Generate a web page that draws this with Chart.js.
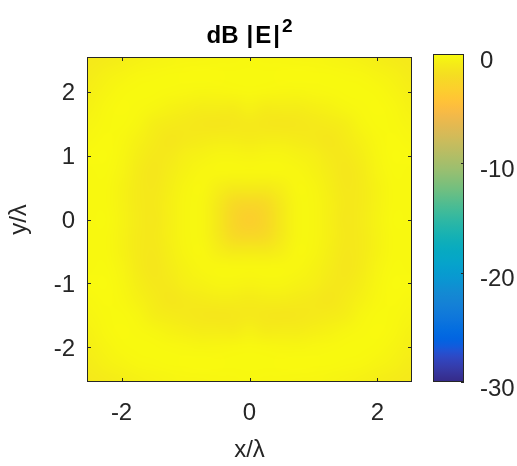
<!DOCTYPE html>
<html>
<head>
<meta charset="utf-8">
<script src="https://cdn.jsdelivr.net/npm/chart.js@4.4.1/dist/chart.umd.min.js"></script>
<style>
  html, body { margin: 0; padding: 0; background: #fff; }
  #wrap { position: relative; width: 517px; height: 466px; }
  #wrap canvas { position: absolute; left: 0; top: 0; }
</style>
</head>
<body>
<div id="wrap">
  <canvas id="fieldMap" width="517" height="466"></canvas>
  <canvas id="colorBar" width="517" height="466"></canvas>
</div>
<script>
// grid of the field map, in wavelengths (same for x and y)
const gridStep = 0.25;
const gridCoords = [-2.5, -2.25, -2, -1.75, -1.5, -1.25, -1, -0.75, -0.5, -0.25, 0,
                    0.25, 0.5, 0.75, 1, 1.25, 1.5, 1.75, 2, 2.25, 2.5];

// dB |E|^2 for one quadrant (rows: |y| = 0..2.5, cols: |x| = 0..2.5)
// the map is mirror symmetric in x and y
const dbQuadrant = [
  [-3.3, -2.6, -1.18, -0.29, -0.29, -0.72, -1.2, -0.99, -0.45, -0.12, -0.15],
  [-2.5, -2.2, -1.09, -0.28, -0.28, -0.69, -1.17, -1.02, -0.51, -0.15, -0.14],
  [-0.97, -1.04, -0.72, -0.22, -0.31, -0.75, -1.21, -1.0, -0.49, -0.15, -0.14],
  [-0.22, -0.20, -0.22, -0.26, -0.49, -0.89, -1.29, -0.94, -0.42, -0.12, -0.15],
  [-0.44, -0.34, -0.36, -0.52, -0.72, -1.09, -1.15, -0.78, -0.29, -0.07, -0.08],
  [-0.98, -0.86, -0.84, -0.94, -1.12, -1.28, -0.98, -0.56, -0.21, -0.08, -0.23],
  [-1.13, -1.23, -1.27, -1.22, -1.11, -0.96, -0.74, -0.30, -0.11, -0.13, -0.35],
  [-0.6, -0.88, -0.84, -0.83, -0.69, -0.50, -0.29, -0.18, -0.08, -0.2, -0.5],
  [-0.16, -0.23, -0.26, -0.27, -0.24, -0.17, -0.09, -0.09, -0.15, -0.37, -0.68],
  [-0.1, -0.10, -0.08, -0.07, -0.08, -0.11, -0.16, -0.23, -0.39, -0.56, -0.91],
  [-0.15, -0.2, -0.22, -0.26, -0.26, -0.33, -0.43, -0.56, -0.74, -0.94, -1.11]
];

const xTicks = [-2, 0, 2];
const yTicks = [-2, -1, 0, 1, 2];
const colorTicks = [-30, -20, -10, 0];
const axisLimits = [-2.54, 2.54];
const colorLimits = [-30, 0];

const titleParts = ['dB', '|E|'];
const titleSup = '2';
const xLabel = 'x/\u03bb';
const yLabel = 'y/\u03bb';

// parula, 64 entries
const parula = [
  [0.2081,0.1663,0.5292],[0.2116,0.1898,0.5777],[0.2123,0.2138,0.6270],[0.2081,0.2386,0.6771],
  [0.1959,0.2645,0.7279],[0.1707,0.2919,0.7792],[0.1253,0.3242,0.8303],[0.0591,0.3598,0.8683],
  [0.0117,0.3875,0.8820],[0.0060,0.4086,0.8828],[0.0165,0.4266,0.8786],[0.0329,0.4430,0.8720],
  [0.0498,0.4586,0.8641],[0.0629,0.4737,0.8554],[0.0723,0.4887,0.8467],[0.0779,0.5040,0.8384],
  [0.0793,0.5200,0.8312],[0.0749,0.5375,0.8263],[0.0641,0.5570,0.8240],[0.0488,0.5772,0.8228],
  [0.0343,0.5966,0.8199],[0.0265,0.6137,0.8135],[0.0239,0.6287,0.8038],[0.0231,0.6418,0.7913],
  [0.0228,0.6535,0.7768],[0.0267,0.6642,0.7607],[0.0384,0.6743,0.7436],[0.0590,0.6838,0.7254],
  [0.0843,0.6928,0.7062],[0.1133,0.7015,0.6859],[0.1453,0.7098,0.6646],[0.1801,0.7177,0.6424],
  [0.2178,0.7250,0.6193],[0.2586,0.7317,0.5954],[0.3022,0.7376,0.5712],[0.3482,0.7424,0.5473],
  [0.3953,0.7459,0.5244],[0.4420,0.7481,0.5033],[0.4871,0.7491,0.4840],[0.5300,0.7491,0.4661],
  [0.5709,0.7485,0.4494],[0.6099,0.7473,0.4337],[0.6473,0.7456,0.4188],[0.6834,0.7435,0.4044],
  [0.7184,0.7411,0.3905],[0.7525,0.7384,0.3768],[0.7858,0.7356,0.3633],[0.8185,0.7327,0.3498],
  [0.8507,0.7299,0.3360],[0.8824,0.7274,0.3217],[0.9139,0.7258,0.3063],[0.9450,0.7261,0.2886],
  [0.9739,0.7314,0.2666],[0.9938,0.7455,0.2403],[0.9990,0.7653,0.2164],[0.9955,0.7861,0.1967],
  [0.9880,0.8066,0.1794],[0.9789,0.8271,0.1633],[0.9697,0.8481,0.1475],[0.9626,0.8705,0.1309],
  [0.9589,0.8949,0.1132],[0.9598,0.9218,0.0948],[0.9661,0.9514,0.0755],[0.9763,0.9831,0.0538]
];

const axisColor = '#262626';
const fontFamily = '"Liberation Sans", Arial, Helvetica, sans-serif';
const tickFont = { family: fontFamily, size: 24 };

// full map, rows from y = -2.5 up to y = 2.5
const mid = (gridCoords.length - 1) / 2;
const fieldDb = gridCoords.map((_, r) =>
  gridCoords.map((_, c) => dbQuadrant[Math.abs(r - mid)][Math.abs(c - mid)]));

function colorFor(v) {
  let f = (v - colorLimits[0]) / (colorLimits[1] - colorLimits[0]);
  f = Math.min(1, Math.max(0, f));
  const pos = f * (parula.length - 1);
  const i = Math.min(parula.length - 2, Math.floor(pos));
  const t = pos - i;
  return parula[i].map((c, k) => Math.round(255 * (c + (parula[i + 1][k] - c) * t)));
}

const heatmapPlugin = {
  id: 'heatmap',
  beforeDatasetsDraw(chart) {
    const { ctx, chartArea: a, scales: { x, y } } = chart;
    const n = gridCoords.length;
    const img = document.createElement('canvas');
    img.width = n;
    img.height = n;
    const ictx = img.getContext('2d');
    const pix = ictx.createImageData(n, n);
    for (let r = 0; r < n; r++) {
      for (let c = 0; c < n; c++) {
        const rgb = colorFor(fieldDb[n - 1 - r][c]);
        const k = (r * n + c) * 4;
        pix.data[k] = rgb[0];
        pix.data[k + 1] = rgb[1];
        pix.data[k + 2] = rgb[2];
        pix.data[k + 3] = 255;
      }
    }
    ictx.putImageData(pix, 0, 0);
    const half = gridStep / 2;
    const left = x.getPixelForValue(gridCoords[0] - half);
    const right = x.getPixelForValue(gridCoords[n - 1] + half);
    const top = y.getPixelForValue(gridCoords[n - 1] + half);
    const bottom = y.getPixelForValue(gridCoords[0] - half);
    ctx.save();
    ctx.beginPath();
    ctx.rect(a.left, a.top, a.width, a.height);
    ctx.clip();
    ctx.imageSmoothingEnabled = true;
    ctx.imageSmoothingQuality = 'high';
    ctx.drawImage(img, left, top, right - left, bottom - top);
    ctx.restore();
  }
};

function line(ctx, x1, y1, x2, y2) {
  ctx.beginPath();
  ctx.moveTo(x1, y1);
  ctx.lineTo(x2, y2);
  ctx.stroke();
}

// box with inward ticks on all four sides, plus the title
const boxPlugin = {
  id: 'matlabBox',
  afterDraw(chart) {
    const { ctx, chartArea: a, scales: { x, y } } = chart;
    const tl = 4;
    ctx.save();
    ctx.strokeStyle = axisColor;
    ctx.lineWidth = 1;
    ctx.strokeRect(a.left + 0.5, a.top + 0.5, a.width - 1, a.height - 1);
    x.ticks.forEach(t => {
      const px = Math.round(x.getPixelForValue(t.value)) + 0.5;
      line(ctx, px, a.bottom, px, a.bottom - tl);
      line(ctx, px, a.top, px, a.top + tl);
    });
    y.ticks.forEach(t => {
      const py = Math.round(y.getPixelForValue(t.value)) + 0.5;
      line(ctx, a.left, py, a.left + tl, py);
      line(ctx, a.right, py, a.right - tl, py);
    });

    // title "dB |E|^2": the |E| part is spaced out a little, like the TeX rendering
    const bigFont = 'bold 24px ' + fontFamily;
    const supFont = 'bold 19px ' + fontFamily;
    const gap = 8;
    const spread = 2;
    ctx.fillStyle = '#000';
    ctx.textBaseline = 'alphabetic';
    ctx.font = bigFont;
    ctx.letterSpacing = '0px';
    const w1 = ctx.measureText(titleParts[0]).width;
    ctx.letterSpacing = spread + 'px';
    const w2 = ctx.measureText(titleParts[1]).width;
    ctx.font = supFont;
    ctx.letterSpacing = '0px';
    const w3 = ctx.measureText(titleSup).width;
    const total = w1 + gap + w2 + w3;
    const x0 = (a.left + a.right) / 2 - total / 2;
    const base = a.top - 14;
    ctx.font = bigFont;
    ctx.fillText(titleParts[0], x0, base);
    ctx.letterSpacing = spread + 'px';
    ctx.fillText(titleParts[1], x0 + w1 + gap, base);
    ctx.letterSpacing = '0px';
    ctx.font = supFont;
    ctx.fillText(titleSup, x0 + w1 + gap + w2, base - 11);
    ctx.restore();
  }
};

const colorbarPlugin = {
  id: 'colorbar',
  beforeDatasetsDraw(chart) {
    const { ctx, chartArea: a, scales: { y } } = chart;
    const g = ctx.createLinearGradient(0, y.getPixelForValue(colorLimits[0]), 0, y.getPixelForValue(colorLimits[1]));
    parula.forEach((c, i) => {
      g.addColorStop(i / (parula.length - 1), 'rgb(' + c.map(v => Math.round(v * 255)).join(',') + ')');
    });
    ctx.save();
    ctx.fillStyle = g;
    ctx.fillRect(a.left, a.top, a.width, a.height);
    ctx.strokeStyle = axisColor;
    ctx.lineWidth = 1;
    ctx.strokeRect(a.left + 0.5, a.top + 0.5, a.width - 1, a.height - 1);
    y.ticks.forEach(t => {
      const py = Math.round(y.getPixelForValue(t.value)) + 0.5;
      line(ctx, a.right, py, a.right - 3, py);
    });
    ctx.restore();
  }
};

new Chart(document.getElementById('fieldMap'), {
  type: 'scatter',
  data: { datasets: [{ data: [] }] },
  options: {
    responsive: false,
    animation: false,
    layout: { padding: { left: 0, top: 57, right: 105, bottom: 0 } },
    plugins: { legend: { display: false }, tooltip: { enabled: false } },
    scales: {
      x: {
        min: axisLimits[0],
        max: axisLimits[1],
        afterBuildTicks: s => { s.ticks = xTicks.map(v => ({ value: v })); },
        afterFit: s => { s.height = 84; },
        grid: { display: false, drawTicks: false },
        border: { display: false },
        ticks: { color: axisColor, font: tickFont, padding: 17, maxRotation: 0, callback: v => String(v) },
        title: { display: true, text: xLabel, color: axisColor, font: tickFont, padding: { top: 0, bottom: 1 } }
      },
      y: {
        min: axisLimits[0],
        max: axisLimits[1],
        afterBuildTicks: s => { s.ticks = yTicks.map(v => ({ value: v })); },
        afterFit: s => { s.width = 87; },
        grid: { display: false, drawTicks: false },
        border: { display: false },
        ticks: { color: axisColor, font: tickFont, padding: 12, labelOffset: 2, callback: v => String(v) },
        title: { display: true, text: yLabel, color: axisColor, font: tickFont, padding: { top: 5, bottom: 0 } }
      }
    }
  },
  plugins: [heatmapPlugin, boxPlugin]
});

new Chart(document.getElementById('colorBar'), {
  type: 'scatter',
  data: { datasets: [{ data: [] }] },
  options: {
    responsive: false,
    animation: false,
    layout: { padding: { left: 433, top: 54, right: 0, bottom: 84 } },
    plugins: { legend: { display: false }, tooltip: { enabled: false } },
    scales: {
      x: { display: false, min: 0, max: 1 },
      y: {
        position: 'right',
        min: colorLimits[0],
        max: colorLimits[1],
        afterBuildTicks: s => { s.ticks = colorTicks.map(v => ({ value: v })); },
        afterFit: s => { s.width = 53; },
        grid: { display: false, drawTicks: false },
        border: { display: false },
        ticks: { color: axisColor, font: tickFont, padding: 16, labelOffset: 7, callback: v => String(v) }
      }
    }
  },
  plugins: [colorbarPlugin]
});
</script>
</body>
</html>
